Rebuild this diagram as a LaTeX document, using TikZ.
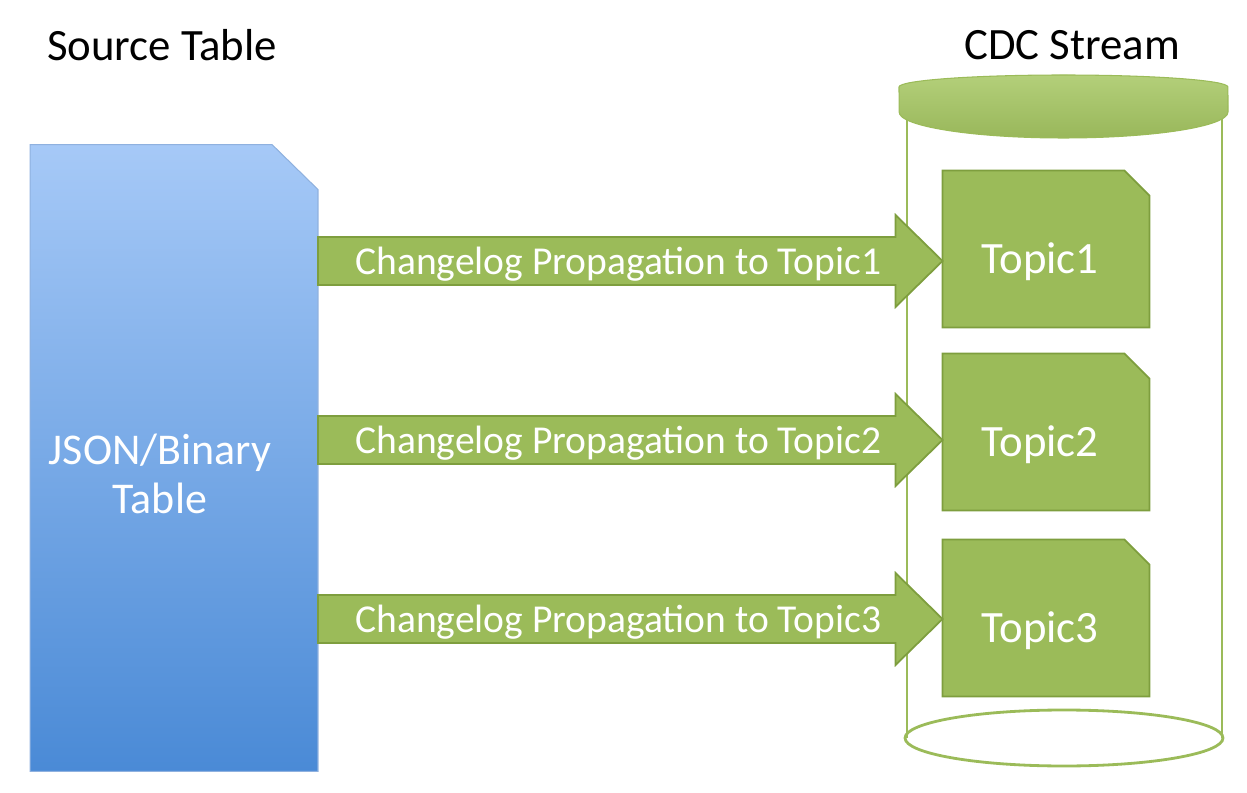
\documentclass[tikz,border=0pt]{standalone}
\usepackage{fontspec}
\setmainfont{Carlito}
\usepackage{xcolor}
\usetikzlibrary{calc,positioning,backgrounds}

\definecolor{topicgreen}{HTML}{9BBB59}
\definecolor{topicedge}{HTML}{7E9E3E}
\definecolor{lidgreen}{HTML}{A6C762}
\definecolor{tabletop}{HTML}{A6C9F7}
\definecolor{tablebot}{HTML}{4A8AD6}
\definecolor{tableedge}{HTML}{8FB1DF}

\begin{document}
\begin{tikzpicture}[x=0.02cm, y=-0.02cm,
    title/.style={font=\fontsize{25.5}{30}\selectfont, text=black},
    srctable/.style={rectangle, inner sep=0pt, outer sep=0pt,
        minimum width=5.76cm, minimum height=12.54cm},
    srcfill/.style={draw=tableedge, line width=0.6pt, top color=tabletop, bottom color=tablebot},
    srctext/.style={text=white, align=center, font=\fontsize{25}{28}\selectfont},
    topic/.style={rectangle, inner sep=0pt, outer sep=0pt,
        minimum width=4.14cm, minimum height=3.14cm},
    topicfill/.style={fill=topicgreen, draw=topicedge, line width=1pt},
    topictext/.style={text=white, font=\fontsize{25.5}{30}\selectfont},
    flow/.style={fill=topicgreen, draw=topicedge, line width=1pt},
    flowtext/.style={text=white, font=\fontsize{22.5}{26}\selectfont},
    stream/.style={draw=topicgreen, line width=1.6pt}
]
    \useasboundingbox (0,0) rectangle (1247,793);

    % Titles
    \node[title] (srctitle) at (162,45) {Source Table};
    \node[title] (cdctitle) at (1072,45) {CDC Stream};

    % Source table
    \node[srctable] (src) at (174,458) {};
    \node[srctext] (srclabel) at (160,474) {JSON/Binary\\Table};

    % CDC stream cylinder
    \draw[stream] (907,110) -- (907,738);
    \draw[stream] (1222,110) -- (1222,738);
    \draw[stream] (1064,738) ellipse [x radius=3.18cm, y radius=0.56cm];
    \shade[top color=lidgreen!85!white, bottom color=lidgreen!92!black, draw=topicgreen, line width=0.6pt]
        (899,87) arc [start angle=180, end angle=0, x radius=3.29cm, y radius=0.24cm]
        -- (1228,112) arc [start angle=0, end angle=-180, x radius=3.29cm, y radius=0.52cm] -- cycle;

    % Topics
    \node[topic] (t1) at (1046,249) {};
    \node[topic] (t2) at (1046,432) {};
    \node[topic] (t3) at (1046,618) {};

    % Cut-corner shapes behind the texts
    \begin{scope}[on background layer]
        \shade[srcfill] (src.north west) -- ($(src.north east)+(-46,0)$) -- ($(src.north east)+(0,45)$)
            -- (src.south east) -- (src.south west) -- cycle;
        \foreach \t in {t1,t2,t3}
            \filldraw[topicfill] (\t.north west) -- ($(\t.north east)+(-25,0)$) -- ($(\t.north east)+(0,25)$)
                -- (\t.south east) -- (\t.south west) -- cycle;
    \end{scope}
    \foreach \i in {1,2,3}
        \node[topictext] (t\i text) at ($(t\i)+(-6,13)$) {Topic\i};

    % Changelog arrows
    \foreach \i/\y in {1/261,2/440,3/619}{
        \coordinate (s\i) at (src.east |- 0,\y);
        \coordinate (e\i) at (t\i.west |- 0,\y);
        \filldraw[flow] ($(s\i)+(0,-24)$) -- ($(e\i)+(-47,-24)$) -- ($(e\i)+(-47,-46)$)
            -- (e\i) -- ($(e\i)+(-47,46)$) -- ($(e\i)+(-47,24)$) -- ($(s\i)+(0,24)$) -- cycle;
        \node[flowtext] (l\i) at ($(s\i)!0.5!(e\i)+(-12,3)$) {Changelog Propagation to Topic\i};
    }
\end{tikzpicture}
\end{document}
